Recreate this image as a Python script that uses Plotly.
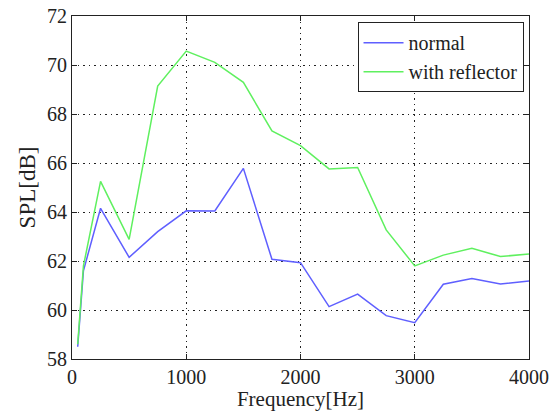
import plotly.graph_objects as go

# frequency points (Hz)
freq = [50, 100, 250, 500, 750, 1000, 1250, 1500, 1750, 2000, 2250, 2500,
        2750, 3000, 3250, 3500, 3750, 4000]

# SPL readings (dB)
spl_normal = [58.5, 61.6, 64.15, 62.15, 63.2, 64.05, 64.04, 65.78, 62.07, 61.93,
              60.14, 60.65, 59.77, 59.48, 61.05, 61.29, 61.06, 61.18]
spl_reflector = [58.6, 61.8, 65.25, 62.88, 69.14, 70.57, 70.11, 69.29, 67.31, 66.71,
                 65.76, 65.82, 63.27, 61.8, 62.24, 62.52, 62.18, 62.29]

font = "Liberation Serif, Times New Roman, serif"

fig = go.Figure()
fig.add_trace(go.Scatter(x=freq, y=spl_normal, mode="lines", name="normal",
                         line=dict(color="#5f5fff", width=1.5)))
fig.add_trace(go.Scatter(x=freq, y=spl_reflector, mode="lines", name="with reflector",
                         line=dict(color="#5ff05f", width=1.5)))

axis_style = dict(
    showline=True, linecolor="#222", linewidth=1, mirror="allticks",
    ticks="inside", ticklen=5, tickcolor="#222",
    showgrid=True, gridcolor="#222", griddash="1.5px,4px", gridwidth=1,
    zeroline=False, tickfont=dict(family=font, size=20, color="#222"),
)

fig.update_xaxes(range=[0, 4000], dtick=1000, **axis_style,
                 title=dict(text="Frequency[Hz]", font=dict(family=font, size=21, color="#222"),
                            standoff=0))
fig.update_yaxes(range=[58, 72], dtick=2, **axis_style,
                 title=dict(text="SPL[dB]", font=dict(family=font, size=23, color="#222"),
                            standoff=4))

fig.update_layout(
    width=558, height=411,
    margin=dict(l=72, r=29, t=16, b=52, autoexpand=False),
    plot_bgcolor="white", paper_bgcolor="white",
    legend=dict(x=0.988, y=0.982, xanchor="right", yanchor="top",
                bordercolor="#222", borderwidth=1, bgcolor="white",
                font=dict(family=font, size=20, color="#222"),
                tracegroupgap=0, itemwidth=40),
)

fig.write_html("out.html", config={"displayModeBar": False},
               post_script="document.body.style.margin='0';")
